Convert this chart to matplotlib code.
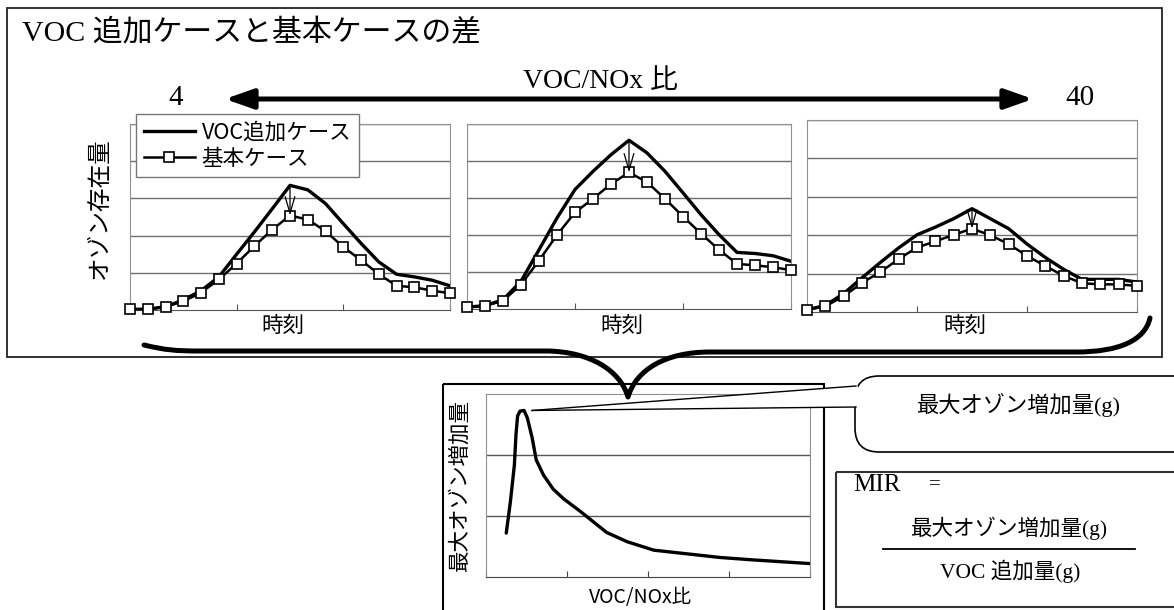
import numpy as np
import matplotlib
matplotlib.use("Agg")
import matplotlib.pyplot as plt
from matplotlib.path import Path
from matplotlib.patches import PathPatch, Rectangle, FancyBboxPatch, FancyArrowPatch, Polygon

plt.rcParams['font.family'] = ['Noto Sans CJK JP', 'DejaVu Sans']
SERIF = ['Liberation Serif', 'Noto Sans CJK JP']

# --- data ------------------------------------------------------------------
hours = np.arange(19)

# VOC/NOx = 4
voc_1 = [0.02, 0.02, 0.09, 0.27, 0.52, 0.89, 1.50, 2.10, 2.72, 3.35,
         3.23, 2.86, 2.32, 1.79, 1.29, 0.96, 0.89, 0.80, 0.65]
base_1 = [0.02, 0.02, 0.09, 0.23, 0.47, 0.82, 1.25, 1.72, 2.16, 2.54,
          2.43, 2.12, 1.69, 1.34, 0.96, 0.65, 0.61, 0.52, 0.45]
# middle ratio
voc_2 = [0.05, 0.09, 0.25, 0.75, 1.60, 2.46, 3.23, 3.72, 4.17, 4.56,
         4.22, 3.72, 3.14, 2.55, 2.01, 1.53, 1.50, 1.44, 1.29]
base_2 = [0.05, 0.09, 0.22, 0.66, 1.31, 2.00, 2.61, 2.98, 3.38, 3.69,
          3.43, 2.98, 2.50, 2.04, 1.60, 1.22, 1.18, 1.13, 1.05]
# VOC/NOx = 40
voc_3 = [0.06, 0.17, 0.48, 0.89, 1.29, 1.67, 2.01, 2.21, 2.43, 2.69,
         2.43, 2.17, 1.77, 1.42, 1.11, 0.85, 0.85, 0.85, 0.78]
base_3 = [0.06, 0.15, 0.41, 0.76, 1.04, 1.38, 1.68, 1.84, 2.01, 2.17,
          2.00, 1.77, 1.46, 1.20, 0.94, 0.75, 0.72, 0.72, 0.68]

# max ozone gain vs VOC/NOx ratio
ratio = [0.25, 0.30, 0.35, 0.37, 0.39, 0.42, 0.47, 0.51, 0.57, 0.62, 0.71,
         0.83, 0.96, 1.16, 1.49, 1.74, 2.07, 2.48, 2.89, 3.30, 4.00]
max_gain = [0.72, 1.22, 1.83, 2.33, 2.64, 2.72, 2.73, 2.61, 2.28, 1.92, 1.67,
            1.44, 1.28, 1.08, 0.73, 0.58, 0.44, 0.38, 0.32, 0.28, 0.22]

legend_labels = ['VOC追加ケース', '基本ケース']

W, H = 1174, 610
fig = plt.figure(figsize=(W / 100, H / 100), dpi=100)


def px_axes(x0, y0, x1, y1):
    # axes placed by pixel box (y measured from the top)
    return fig.add_axes([x0 / W, 1 - y1 / H, (x1 - x0) / W, (y1 - y0) / H])


# background layer: boxes and text
bg = px_axes(0, 0, W, H)
bg.set_xlim(0, W)
bg.set_ylim(H, 0)
bg.axis('off')

bg.add_patch(Rectangle((7, 8), 1155, 349, fill=False, ec='#222222', lw=1.3))
bg.add_patch(Rectangle((443, 384), 381, 260, fill=False, ec='black', lw=1.5))
bg.add_patch(Rectangle((836, 472), 400, 135, fill=False, ec='#333333', lw=1.5))

bg.text(22, 33, 'VOC 追加ケースと基本ケースの差', fontsize=21.5, family=SERIF, va='center')
bg.text(600, 81, 'VOC/NOx 比', fontsize=20, family=SERIF, ha='center', va='center')
bg.text(176, 98, '4', fontsize=21, family=SERIF, ha='center', va='center')
bg.text(1080, 98, '40', fontsize=21, family=SERIF, ha='center', va='center')
bg.add_patch(FancyArrowPatch((225, 99), (1033, 99),
                             arrowstyle='<|-|>,head_length=1.7,head_width=0.6',
                             mutation_scale=10, lw=3.6, color='black',
                             shrinkA=0, shrinkB=0))

bg.text(99, 208, 'オゾン存在量', fontsize=17, rotation=90, ha='center', va='center')
for xc in (283, 622, 965):
    bg.text(xc, 326, '時刻', fontsize=15.5, ha='center', va='center')

bg.text(460, 485, '最大オゾン増加量', fontsize=15.5, rotation=90, ha='center', va='center')
bg.text(641, 598, 'VOC/NOx比', fontsize=14, ha='center', va='center')

bg.text(853, 485, 'MIR', fontsize=18, family=SERIF, va='center')
bg.text(935, 485, '=', fontsize=15, family=SERIF, ha='center', va='center')
bg.text(1010, 528, '最大オゾン増加量(g)', fontsize=15.5, family=SERIF, ha='center', va='center')
bg.plot([883, 1135], [549, 549], color='black', lw=1.3)
bg.text(1010, 571, 'VOC 追加量(g)', fontsize=15.5, family=SERIF, ha='center', va='center')

# --- three diurnal charts ------------------------------------------------------
panels = [((130, 124, 450, 310), voc_1, base_1),
          ((467, 124, 791, 309), voc_2, base_2),
          ((807, 120, 1137, 312), voc_3, base_3)]

first_ax = None
handles = []
for box, voc, base in panels:
    ax = px_axes(*box)
    l_voc, = ax.plot(hours, voc, color='black', lw=2.4, zorder=2)
    l_base, = ax.plot(hours, base, '-s', color='black', lw=1.8, ms=7.5,
                      mfc='white', mec='black', mew=1.2, zorder=3, clip_on=False)
    k = int(np.argmax(voc))
    ax.annotate('', xy=(hours[k], base[k]), xytext=(hours[k], voc[k]),
                arrowprops=dict(arrowstyle='->,head_length=1.2,head_width=0.35',
                                lw=0.9, color='black', shrinkA=0, shrinkB=0),
                zorder=4)
    ax.set_xlim(0, 18)
    ax.set_ylim(0, 5)
    ax.set_yticks([1, 2, 3, 4, 5])
    ax.set_xticks([0, 6, 12, 18])
    ax.yaxis.grid(True, color='#707070', lw=1)
    ax.set_axisbelow(True)
    ax.tick_params(axis='x', direction='in', length=4, color='#555555', labelbottom=False)
    ax.tick_params(axis='y', length=0, labelleft=False)
    for s in ax.spines.values():
        s.set_color('#909090')
    ax.spines['bottom'].set_color('#555555')
    if first_ax is None:
        first_ax = ax
        handles = [l_voc, l_base]

first_ax.legend(handles, legend_labels, loc='upper left',
                bbox_to_anchor=(136 / W, 1 - 114 / H), bbox_transform=fig.transFigure,
                fontsize=15.5, handlelength=2.4, borderpad=0.35, labelspacing=0.2,
                handletextpad=0.3, borderaxespad=0, fancybox=False,
                edgecolor='#777777', framealpha=1)

# --- max ozone gain chart -------------------------------------------------------
ax4 = px_axes(486, 394, 810, 577)
ax4.plot(ratio, max_gain, color='black', lw=2.4, solid_capstyle='round')
ax4.set_xlim(0, 4)
ax4.set_ylim(0, 3)
ax4.set_yticks([1, 2])
ax4.set_xticks([0, 1, 2, 3, 4])
ax4.yaxis.grid(True, color='#555555', lw=1)
ax4.set_axisbelow(True)
ax4.tick_params(axis='x', direction='in', length=4, color='#444444', labelbottom=False)
ax4.tick_params(axis='y', length=0, labelleft=False)
for s in ax4.spines.values():
    s.set_color('#909090')
ax4.spines['bottom'].set_color('#444444')

# --- foreground layer: brace and callout ---------------------------------------
fg = px_axes(0, 0, W, H)
fg.set_xlim(0, W)
fg.set_ylim(H, 0)
fg.axis('off')
fg.patch.set_alpha(0)

brace_verts = [(144, 345), (165, 350), (175, 351), (200, 351), (548, 351),
               (590, 352), (620, 370), (628, 397),
               (636, 370), (665, 352), (710, 352), (1076, 352),
               (1120, 352), (1145, 340), (1150, 318)]
brace_codes = [Path.MOVETO, Path.CURVE4, Path.CURVE4, Path.CURVE4, Path.LINETO,
               Path.CURVE4, Path.CURVE4, Path.CURVE4,
               Path.CURVE4, Path.CURVE4, Path.CURVE4, Path.LINETO,
               Path.CURVE4, Path.CURVE4, Path.CURVE4]
fg.add_patch(PathPatch(Path(brace_verts, brace_codes), fill=False, lw=3.6,
                       ec='black', capstyle='round', joinstyle='round'))

fg.add_patch(FancyBboxPatch((855, 376), 345, 76,
                            boxstyle='round,pad=0,rounding_size=24',
                            fc='white', ec='black', lw=1.2, zorder=4))
ipk = int(np.argmax(max_gain))
tip = fg.transData.inverted().transform(
    ax4.transData.transform((ratio[ipk], max_gain[ipk])))
tip = (tip[0] + 8, tip[1])
fg.add_patch(Polygon([tip, (858, 386), (858, 407)], closed=True,
                     fc='white', ec='none', zorder=5))
fg.plot([tip[0], 856], [tip[1], 386], color='black', lw=1, zorder=6)
fg.plot([tip[0], 856], [tip[1], 407], color='black', lw=1, zorder=6)
fg.text(1019, 405, '最大オゾン増加量(g)', fontsize=16, family=SERIF,
        ha='center', va='center', zorder=7)

fig.savefig('out.png', dpi=100)
